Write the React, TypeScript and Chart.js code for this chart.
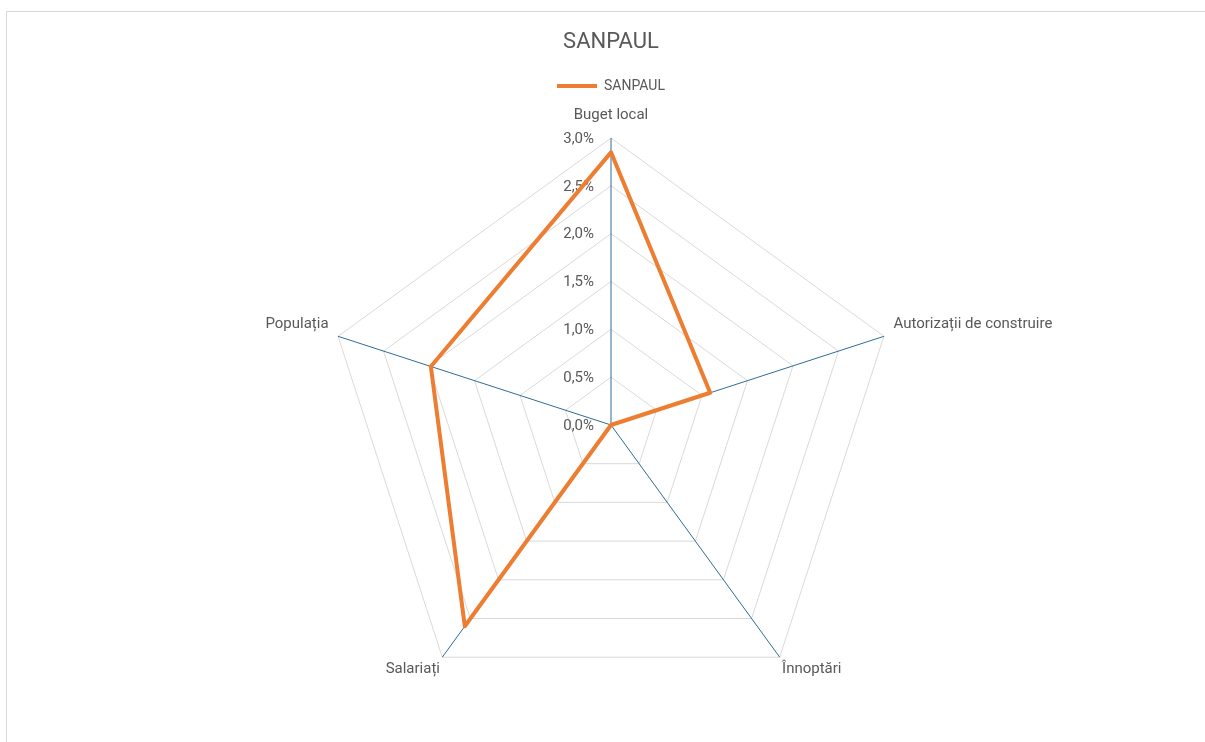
import React, { useEffect, useRef } from "react";
import { Chart, registerables } from "chart.js";

Chart.register(...registerables);

const categories = [
  "Buget local",
  "Autorizații de construire",
  "Înnoptări",
  "Salariați",
  "Populația",
];
const seriesName = "SANPAUL";
const seriesValues = [2.85, 1.09, 0.0, 2.6, 1.98];
const tickLabels = ["0,0%", "0,5%", "1,0%", "1,5%", "2,0%", "2,5%", "3,0%"];

const FONT = "Roboto, 'Noto Sans', sans-serif";
const TEXT = "#595959";

const leftTicksPlugin = {
  id: "leftTicks",
  beforeDatasetsDraw(chart: any) {
    const s = chart.scales.r;
    const ctx = chart.ctx;
    ctx.save();
    ctx.font = `15px ${FONT}`;
    ctx.fillStyle = TEXT;
    ctx.textAlign = "right";
    ctx.textBaseline = "middle";
    s.ticks.forEach((t: any, i: number) => {
      const d = s.getDistanceFromCenterForValue(t.value);
      const label = tickLabels[i] ?? String(t.value);
      ctx.fillText(label, s.xCenter - 17, s.yCenter - d + 1);
    });
    ctx.restore();
  },
};

export default function App() {
  const ref = useRef<HTMLCanvasElement | null>(null);

  useEffect(() => {
    if (!ref.current) return;
    const chart = new Chart(ref.current, {
      type: "radar",
      data: {
        labels: categories,
        datasets: [
          {
            label: seriesName,
            data: seriesValues,
            borderColor: "#ED7D31",
            backgroundColor: "rgba(0,0,0,0)",
            borderWidth: 4,
            borderJoinStyle: "round",
            pointRadius: 0,
            pointHoverRadius: 0,
            fill: false,
          },
        ],
      },
      plugins: [leftTicksPlugin],
      options: {
        responsive: false,
        animation: false,
        devicePixelRatio: 1,
        layout: { padding: { left: 17, right: 0, top: 0, bottom: 14 } },
        plugins: {
          tooltip: { enabled: false },
          title: {
            display: true,
            text: seriesName,
            color: TEXT,
            font: { family: FONT, size: 22, weight: "normal" },
            padding: { top: 28.8, bottom: 13.8 },
          },
          legend: {
            display: true,
            position: "top",
            maxHeight: 21,
            labels: {
              color: TEXT,
              font: { family: FONT, size: 14 },
              usePointStyle: true,
              pointStyle: "line",
              pointStyleWidth: 40,
              padding: 10,
            },
          },
        },
        scales: {
          r: {
            min: 0,
            max: 3,
            beginAtZero: true,
            ticks: { display: false, stepSize: 0.5 },
            grid: { color: "#d9d9d9", lineWidth: 1 },
            angleLines: { display: true, color: "#2F6B97", lineWidth: 1 },
            pointLabels: {
              color: TEXT,
              font: { family: FONT, size: 15 },
              padding: (ctx: any) =>
                ctx.index === 0 ? 14 : ctx.index === 1 || ctx.index === 4 ? 10 : 4,
            },
          },
        },
      },
    } as any);
    return () => chart.destroy();
  }, []);

  return (
    <div
      style={{
        position: "absolute",
        left: 0,
        top: 0,
        width: 1205,
        height: 742,
        overflow: "hidden",
        background: "#ffffff",
      }}
    >
      <div
        style={{
          position: "absolute",
          left: 6,
          top: 11,
          width: 1205 - 7,
          height: 742 - 12,
          borderTop: "1px solid #d9d9d9",
          borderLeft: "1px solid #d9d9d9",
        }}
      />
      <canvas
        ref={ref}
        width={1205}
        height={742}
        style={{ position: "absolute", left: 0, top: 0, display: "block" }}
      />
    </div>
  );
}
